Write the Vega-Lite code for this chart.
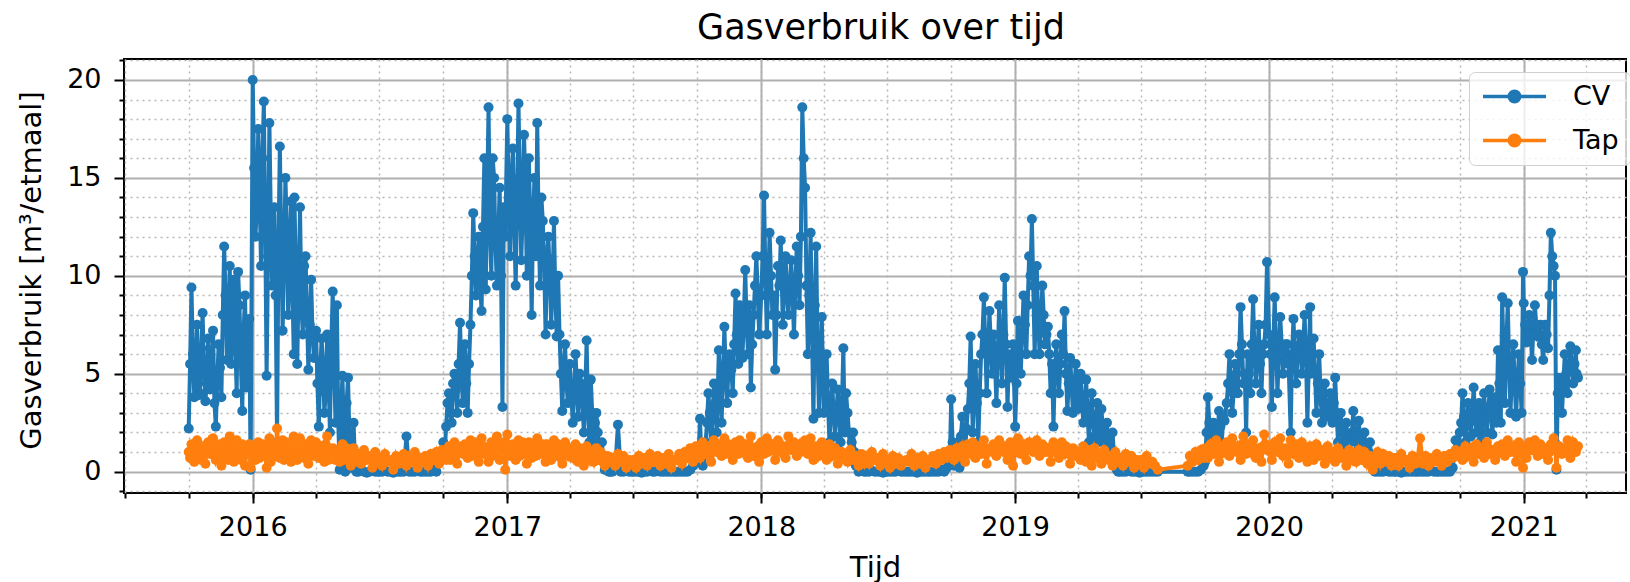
{
"$schema":"https://vega.github.io/schema/vega-lite/v6.json",
"width":1502,"height":434,"autosize":{"type":"none"},
"padding":{"left":124,"top":59,"right":4,"bottom":89},
"background":"white",
"title":{"text":"Gasverbruik over tijd","fontSize":35,"font":"DejaVu Sans","fontWeight":"normal","color":"black","anchor":"middle","baseline":"alphabetic","offset":19,"dx":6,"dy":34},
"config":{"font":"DejaVu Sans","view":{"stroke":"black","strokeWidth":2},
"axis":{"labelFont":"DejaVu Sans","labelFontSize":27,"labelColor":"black","titleFont":"DejaVu Sans","titleFontSize":29,"titleColor":"black","titleFontWeight":"normal","tickColor":"black","tickWidth":2,"domain":false,"gridColor":"#b0b0b0","labelFlush":false,"labelOverlap":false}},
"data":{"values":[
{"d":"2015-10-01","c":2.2,"t":1.0},{"d":"2015-10-05","c":9.4,"t":1.4},{"d":"2015-10-09","c":3.8,"t":0.5},{"d":"2015-10-13","c":7.5,"t":1.6},{"d":"2015-10-17","c":4.0,"t":0.8},{"d":"2015-10-21","c":8.1,"t":1.3},{"d":"2015-10-25","c":3.6,"t":0.4},{"d":"2015-10-29","c":6.8,"t":1.5},
{"d":"2015-11-01","c":4.2,"t":0.9},{"d":"2015-11-05","c":7.2,"t":1.7},{"d":"2015-11-09","c":2.3,"t":0.6},{"d":"2015-11-13","c":6.5,"t":1.2},{"d":"2015-11-17","c":3.8,"t":0.3},{"d":"2015-11-21","c":11.5,"t":1.5},{"d":"2015-11-25","c":5.7,"t":1.0},{"d":"2015-11-29","c":10.5,"t":1.8},
{"d":"2015-12-01","c":5.5,"t":1.1},{"d":"2015-12-05","c":9.8,"t":0.5},{"d":"2015-12-09","c":4.0,"t":1.6},{"d":"2015-12-13","c":8.5,"t":0.9},{"d":"2015-12-17","c":3.1,"t":1.4},{"d":"2015-12-21","c":9.0,"t":0.3},{"d":"2015-12-25","c":5.0,"t":1.2},{"d":"2015-12-29","c":0.1,"t":0.2},
{"d":"2016-01-01","c":20.0,"t":1.3},{"d":"2016-01-05","c":12.0,"t":0.6},{"d":"2016-01-09","c":17.5,"t":1.5},{"d":"2016-01-13","c":10.5,"t":0.8},{"d":"2016-01-17","c":18.9,"t":1.2},{"d":"2016-01-21","c":4.9,"t":0.2},{"d":"2016-01-25","c":17.8,"t":1.7},{"d":"2016-01-29","c":9.5,"t":1.0},
{"d":"2016-02-01","c":13.5,"t":1.4},{"d":"2016-02-05","c":1.5,"t":2.2},{"d":"2016-02-09","c":16.6,"t":0.7},{"d":"2016-02-13","c":7.2,"t":1.6},{"d":"2016-02-17","c":15.0,"t":0.9},{"d":"2016-02-21","c":8.0,"t":1.3},{"d":"2016-02-25","c":13.8,"t":0.5},{"d":"2016-02-29","c":6.0,"t":1.8},
{"d":"2016-03-01","c":14.0,"t":1.2},{"d":"2016-03-05","c":5.5,"t":0.6},{"d":"2016-03-09","c":13.5,"t":1.7},{"d":"2016-03-13","c":7.0,"t":1.0},{"d":"2016-03-17","c":11.0,"t":1.4},{"d":"2016-03-21","c":5.2,"t":0.4},{"d":"2016-03-25","c":9.8,"t":1.6},{"d":"2016-03-29","c":5.8,"t":0.8},
{"d":"2016-04-01","c":7.2,"t":1.5},{"d":"2016-04-05","c":2.3,"t":0.7},{"d":"2016-04-09","c":6.8,"t":1.3},{"d":"2016-04-13","c":3.0,"t":0.5},{"d":"2016-04-17","c":7.0,"t":1.8},{"d":"2016-04-21","c":2.0,"t":0.9},{"d":"2016-04-25","c":9.2,"t":1.2},{"d":"2016-04-29","c":2.5,"t":0.6},
{"d":"2016-05-01","c":8.5,"t":1.1},{"d":"2016-05-05","c":0.1,"t":0.5},{"d":"2016-05-09","c":4.9,"t":1.4},{"d":"2016-05-13","c":0.0,"t":0.8},{"d":"2016-05-17","c":4.8,"t":1.0},{"d":"2016-05-21","c":0.2,"t":0.3},{"d":"2016-05-25","c":2.5,"t":1.2},{"d":"2016-05-29","c":0.0,"t":0.7},
{"d":"2016-06-01","c":0.0,"t":0.9},{"d":"2016-06-05","c":0.1,"t":0.4},{"d":"2016-06-09","c":0.0,"t":1.1},{"d":"2016-06-13","c":-0.05,"t":0.6},{"d":"2016-06-17","c":0.0,"t":0.8},{"d":"2016-06-21","c":0.1,"t":0.2},{"d":"2016-06-25","c":0.0,"t":1.0},{"d":"2016-06-29","c":0.0,"t":0.5},
{"d":"2016-07-01","c":0.0,"t":0.7},{"d":"2016-07-05","c":0.0,"t":0.3},{"d":"2016-07-09","c":0.05,"t":0.9},{"d":"2016-07-13","c":0.0,"t":0.5},{"d":"2016-07-17","c":0.0,"t":0.6},{"d":"2016-07-21","c":-0.05,"t":0.1},{"d":"2016-07-25","c":0.0,"t":0.8},{"d":"2016-07-29","c":0.0,"t":0.4},
{"d":"2016-08-01","c":0.0,"t":0.6},{"d":"2016-08-05","c":0.0,"t":0.9},{"d":"2016-08-09","c":1.8,"t":0.3},{"d":"2016-08-13","c":0.0,"t":0.8},{"d":"2016-08-17","c":0.0,"t":0.5},{"d":"2016-08-21","c":0.0,"t":1.0},{"d":"2016-08-25","c":0.05,"t":0.2},{"d":"2016-08-29","c":0.0,"t":0.7},
{"d":"2016-09-01","c":0.0,"t":0.5},{"d":"2016-09-05","c":0.0,"t":0.8},{"d":"2016-09-09","c":0.0,"t":0.3},{"d":"2016-09-13","c":0.0,"t":0.9},{"d":"2016-09-17","c":0.1,"t":0.6},{"d":"2016-09-21","c":0.0,"t":1.0},{"d":"2016-09-25","c":0.5,"t":0.4},{"d":"2016-09-29","c":1.0,"t":1.1},
{"d":"2016-10-01","c":1.5,"t":1.0},{"d":"2016-10-05","c":2.3,"t":0.6},{"d":"2016-10-09","c":4.0,"t":1.3},{"d":"2016-10-13","c":2.5,"t":0.8},{"d":"2016-10-17","c":5.0,"t":1.5},{"d":"2016-10-21","c":3.0,"t":0.4},{"d":"2016-10-25","c":7.6,"t":1.2},{"d":"2016-10-29","c":3.5,"t":0.9},
{"d":"2016-11-01","c":6.5,"t":1.4},{"d":"2016-11-05","c":3.0,"t":0.7},{"d":"2016-11-09","c":7.5,"t":1.6},{"d":"2016-11-13","c":13.2,"t":1.0},{"d":"2016-11-17","c":9.0,"t":1.3},{"d":"2016-11-21","c":12.0,"t":0.5},{"d":"2016-11-25","c":8.2,"t":1.7},{"d":"2016-11-29","c":16.0,"t":0.9},
{"d":"2016-12-01","c":9.3,"t":1.2},{"d":"2016-12-05","c":18.6,"t":0.5},{"d":"2016-12-09","c":10.0,"t":1.5},{"d":"2016-12-13","c":15.0,"t":1.1},{"d":"2016-12-17","c":9.5,"t":1.8},{"d":"2016-12-21","c":14.5,"t":0.6},{"d":"2016-12-25","c":3.3,"t":1.3},{"d":"2016-12-29","c":12.0,"t":0.1},
{"d":"2017-01-01","c":18.0,"t":1.9},{"d":"2017-01-05","c":11.0,"t":0.8},{"d":"2017-01-09","c":16.5,"t":1.4},{"d":"2017-01-13","c":9.5,"t":0.6},{"d":"2017-01-17","c":18.8,"t":1.6},{"d":"2017-01-21","c":10.8,"t":1.0},{"d":"2017-01-25","c":17.2,"t":1.3},{"d":"2017-01-29","c":10.0,"t":0.4},
{"d":"2017-02-01","c":16.0,"t":1.5},{"d":"2017-02-05","c":8.0,"t":0.7},{"d":"2017-02-09","c":15.0,"t":1.2},{"d":"2017-02-13","c":17.8,"t":1.7},{"d":"2017-02-17","c":9.5,"t":0.9},{"d":"2017-02-21","c":12.8,"t":1.4},{"d":"2017-02-25","c":7.0,"t":0.5},
{"d":"2017-03-01","c":12.0,"t":1.3},{"d":"2017-03-05","c":7.5,"t":0.6},{"d":"2017-03-09","c":12.8,"t":1.6},{"d":"2017-03-13","c":6.9,"t":0.9},{"d":"2017-03-17","c":7.0,"t":1.1},{"d":"2017-03-21","c":3.1,"t":0.4},{"d":"2017-03-25","c":6.5,"t":1.5},{"d":"2017-03-29","c":3.5,"t":0.8},
{"d":"2017-04-01","c":5.5,"t":1.2},{"d":"2017-04-05","c":2.5,"t":0.7},{"d":"2017-04-09","c":6.0,"t":1.4},{"d":"2017-04-13","c":2.8,"t":0.5},{"d":"2017-04-17","c":4.5,"t":1.0},{"d":"2017-04-21","c":2.0,"t":0.3},{"d":"2017-04-25","c":6.7,"t":1.3},{"d":"2017-04-29","c":1.5,"t":0.6},
{"d":"2017-05-01","c":4.7,"t":1.0},{"d":"2017-05-05","c":1.5,"t":0.5},{"d":"2017-05-09","c":3.0,"t":1.2},{"d":"2017-05-13","c":1.0,"t":0.6},{"d":"2017-05-17","c":1.5,"t":0.9},{"d":"2017-05-21","c":0.1,"t":0.3},{"d":"2017-05-25","c":0.5,"t":0.8},{"d":"2017-05-29","c":0.0,"t":0.5},
{"d":"2017-06-01","c":0.0,"t":0.7},{"d":"2017-06-05","c":0.1,"t":0.3},{"d":"2017-06-09","c":2.4,"t":0.9},{"d":"2017-06-13","c":0.0,"t":0.5},{"d":"2017-06-17","c":0.0,"t":0.8},{"d":"2017-06-21","c":0.1,"t":0.2},{"d":"2017-06-25","c":0.0,"t":0.6},{"d":"2017-06-29","c":0.0,"t":0.4},
{"d":"2017-07-01","c":0.0,"t":0.6},{"d":"2017-07-05","c":0.0,"t":0.2},{"d":"2017-07-09","c":0.0,"t":0.8},{"d":"2017-07-13","c":-0.05,"t":0.4},{"d":"2017-07-17","c":0.0,"t":0.7},{"d":"2017-07-21","c":0.0,"t":0.3},{"d":"2017-07-25","c":0.05,"t":0.9},{"d":"2017-07-29","c":0.0,"t":0.5},
{"d":"2017-08-01","c":0.0,"t":0.5},{"d":"2017-08-05","c":0.05,"t":0.8},{"d":"2017-08-09","c":0.0,"t":0.3},{"d":"2017-08-13","c":0.0,"t":0.7},{"d":"2017-08-17","c":0.0,"t":0.4},{"d":"2017-08-21","c":0.0,"t":0.9},{"d":"2017-08-25","c":0.0,"t":0.2},{"d":"2017-08-29","c":0.0,"t":0.6},
{"d":"2017-09-01","c":0.0,"t":0.6},{"d":"2017-09-05","c":0.0,"t":0.9},{"d":"2017-09-09","c":0.0,"t":0.4},{"d":"2017-09-13","c":0.0,"t":1.0},{"d":"2017-09-17","c":0.0,"t":0.7},{"d":"2017-09-21","c":0.1,"t":1.2},{"d":"2017-09-25","c":0.3,"t":0.5},{"d":"2017-09-29","c":1.0,"t":1.3},
{"d":"2017-10-01","c":0.5,"t":1.2},{"d":"2017-10-05","c":2.7,"t":0.7},{"d":"2017-10-09","c":0.3,"t":1.5},{"d":"2017-10-13","c":1.5,"t":0.9},{"d":"2017-10-17","c":4.0,"t":1.3},{"d":"2017-10-21","c":1.2,"t":0.5},{"d":"2017-10-25","c":4.5,"t":1.6},{"d":"2017-10-29","c":2.0,"t":1.0},
{"d":"2017-11-01","c":6.2,"t":1.4},{"d":"2017-11-05","c":2.5,"t":0.8},{"d":"2017-11-09","c":7.4,"t":1.7},{"d":"2017-11-13","c":3.5,"t":1.1},{"d":"2017-11-17","c":6.0,"t":1.3},{"d":"2017-11-21","c":4.0,"t":0.6},{"d":"2017-11-25","c":9.1,"t":1.5},{"d":"2017-11-29","c":5.5,"t":0.9},
{"d":"2017-12-01","c":8.5,"t":1.6},{"d":"2017-12-05","c":5.8,"t":1.0},{"d":"2017-12-09","c":10.3,"t":1.4},{"d":"2017-12-13","c":6.0,"t":0.7},{"d":"2017-12-17","c":4.3,"t":1.8},{"d":"2017-12-21","c":8.0,"t":0.8},{"d":"2017-12-25","c":11.0,"t":1.2},{"d":"2017-12-29","c":7.0,"t":0.5},
{"d":"2018-01-01","c":9.0,"t":1.5},{"d":"2018-01-05","c":14.1,"t":0.9},{"d":"2018-01-09","c":7.0,"t":1.7},{"d":"2018-01-13","c":12.2,"t":1.2},{"d":"2018-01-17","c":8.0,"t":1.4},{"d":"2018-01-21","c":5.2,"t":0.6},{"d":"2018-01-25","c":10.5,"t":1.6},{"d":"2018-01-29","c":11.8,"t":1.0},
{"d":"2018-02-01","c":7.5,"t":1.3},{"d":"2018-02-05","c":11.0,"t":0.7},{"d":"2018-02-09","c":8.0,"t":1.8},{"d":"2018-02-13","c":10.8,"t":1.1},{"d":"2018-02-17","c":7.0,"t":1.5},{"d":"2018-02-21","c":11.5,"t":0.8},{"d":"2018-02-25","c":8.5,"t":1.4},
{"d":"2018-03-01","c":18.6,"t":1.2},{"d":"2018-03-05","c":14.5,"t":1.6},{"d":"2018-03-09","c":6.0,"t":0.9},{"d":"2018-03-13","c":12.2,"t":1.7},{"d":"2018-03-17","c":2.7,"t":0.6},{"d":"2018-03-21","c":11.5,"t":1.3},{"d":"2018-03-25","c":3.0,"t":0.8},{"d":"2018-03-29","c":7.9,"t":1.5},
{"d":"2018-04-01","c":3.0,"t":1.1},{"d":"2018-04-05","c":6.0,"t":0.6},{"d":"2018-04-09","c":1.5,"t":1.4},{"d":"2018-04-13","c":4.5,"t":0.8},{"d":"2018-04-17","c":1.8,"t":1.2},{"d":"2018-04-21","c":4.2,"t":0.4},{"d":"2018-04-25","c":1.5,"t":1.0},{"d":"2018-04-29","c":6.3,"t":0.7},
{"d":"2018-05-01","c":2.0,"t":0.9},{"d":"2018-05-05","c":3.0,"t":0.5},{"d":"2018-05-09","c":1.0,"t":1.1},{"d":"2018-05-13","c":2.0,"t":0.6},{"d":"2018-05-17","c":0.3,"t":0.8},{"d":"2018-05-21","c":0.0,"t":0.3},{"d":"2018-05-25","c":0.1,"t":0.9},{"d":"2018-05-29","c":0.0,"t":0.4},
{"d":"2018-06-01","c":0.0,"t":0.8},{"d":"2018-06-05","c":0.0,"t":0.4},{"d":"2018-06-09","c":0.05,"t":1.0},{"d":"2018-06-13","c":0.0,"t":0.6},{"d":"2018-06-17","c":0.0,"t":0.7},{"d":"2018-06-21","c":0.0,"t":0.3},{"d":"2018-06-25","c":-0.05,"t":0.9},{"d":"2018-06-29","c":0.0,"t":0.5},
{"d":"2018-07-01","c":0.0,"t":0.6},{"d":"2018-07-05","c":0.0,"t":0.2},{"d":"2018-07-09","c":0.0,"t":0.8},{"d":"2018-07-13","c":0.0,"t":0.4},{"d":"2018-07-17","c":0.05,"t":0.7},{"d":"2018-07-21","c":0.0,"t":0.3},{"d":"2018-07-25","c":0.0,"t":0.5},{"d":"2018-07-29","c":0.0,"t":0.6},
{"d":"2018-08-01","c":0.0,"t":0.5},{"d":"2018-08-05","c":0.0,"t":0.9},{"d":"2018-08-09","c":0.0,"t":0.3},{"d":"2018-08-13","c":-0.05,"t":0.7},{"d":"2018-08-17","c":0.0,"t":0.4},{"d":"2018-08-21","c":0.0,"t":0.8},{"d":"2018-08-25","c":0.0,"t":0.2},{"d":"2018-08-29","c":0.0,"t":0.6},
{"d":"2018-09-01","c":0.0,"t":0.5},{"d":"2018-09-05","c":0.0,"t":0.8},{"d":"2018-09-09","c":0.0,"t":0.4},{"d":"2018-09-13","c":0.0,"t":0.9},{"d":"2018-09-17","c":0.1,"t":0.6},{"d":"2018-09-21","c":0.0,"t":1.0},{"d":"2018-09-25","c":0.2,"t":0.7},{"d":"2018-09-29","c":0.5,"t":1.1},
{"d":"2018-10-01","c":3.7,"t":1.0},{"d":"2018-10-05","c":0.3,"t":0.6},{"d":"2018-10-09","c":0.8,"t":1.2},{"d":"2018-10-13","c":0.2,"t":0.8},{"d":"2018-10-17","c":2.8,"t":1.3},{"d":"2018-10-21","c":1.0,"t":0.5},{"d":"2018-10-25","c":3.2,"t":1.4},{"d":"2018-10-29","c":6.9,"t":0.9},
{"d":"2018-11-01","c":2.0,"t":1.5},{"d":"2018-11-05","c":5.5,"t":0.7},{"d":"2018-11-09","c":1.5,"t":1.3},{"d":"2018-11-13","c":6.0,"t":0.9},{"d":"2018-11-17","c":8.9,"t":1.6},{"d":"2018-11-21","c":4.0,"t":0.4},{"d":"2018-11-25","c":8.2,"t":1.2},{"d":"2018-11-29","c":5.0,"t":1.0},
{"d":"2018-12-01","c":7.0,"t":1.4},{"d":"2018-12-05","c":3.5,"t":0.8},{"d":"2018-12-09","c":8.5,"t":1.6},{"d":"2018-12-13","c":4.5,"t":1.1},{"d":"2018-12-17","c":9.9,"t":1.3},{"d":"2018-12-21","c":3.3,"t":0.6},{"d":"2018-12-25","c":4.8,"t":1.5},{"d":"2018-12-29","c":6.5,"t":0.3},
{"d":"2019-01-01","c":2.3,"t":1.2},{"d":"2019-01-05","c":7.7,"t":1.7},{"d":"2019-01-09","c":5.0,"t":0.9},{"d":"2019-01-13","c":9.0,"t":1.4},{"d":"2019-01-17","c":6.0,"t":0.6},{"d":"2019-01-21","c":11.0,"t":1.5},{"d":"2019-01-25","c":12.9,"t":1.1},{"d":"2019-01-29","c":6.0,"t":1.3},
{"d":"2019-02-01","c":10.5,"t":1.6},{"d":"2019-02-05","c":6.0,"t":0.8},{"d":"2019-02-09","c":9.5,"t":1.4},{"d":"2019-02-13","c":6.5,"t":1.0},{"d":"2019-02-17","c":7.4,"t":1.2},{"d":"2019-02-21","c":4.0,"t":0.5},{"d":"2019-02-25","c":2.3,"t":1.5},
{"d":"2019-03-01","c":6.5,"t":1.3},{"d":"2019-03-05","c":4.0,"t":0.7},{"d":"2019-03-09","c":7.0,"t":1.5},{"d":"2019-03-13","c":8.2,"t":0.9},{"d":"2019-03-17","c":3.1,"t":1.1},{"d":"2019-03-21","c":5.8,"t":0.4},{"d":"2019-03-25","c":3.0,"t":1.2},{"d":"2019-03-29","c":5.5,"t":0.8},
{"d":"2019-04-01","c":3.2,"t":1.0},{"d":"2019-04-05","c":5.0,"t":0.6},{"d":"2019-04-09","c":2.5,"t":1.3},{"d":"2019-04-13","c":4.7,"t":0.5},{"d":"2019-04-17","c":1.5,"t":1.1},{"d":"2019-04-21","c":4.0,"t":0.3},{"d":"2019-04-25","c":1.8,"t":1.2},{"d":"2019-04-29","c":3.5,"t":0.7},
{"d":"2019-05-01","c":1.5,"t":0.9},{"d":"2019-05-05","c":3.2,"t":0.4},{"d":"2019-05-09","c":1.0,"t":1.1},{"d":"2019-05-13","c":2.5,"t":0.7},{"d":"2019-05-17","c":1.5,"t":0.8},{"d":"2019-05-21","c":2.0,"t":0.3},{"d":"2019-05-25","c":0.3,"t":1.0},{"d":"2019-05-29","c":0.0,"t":0.5},
{"d":"2019-06-01","c":0.0,"t":0.7},{"d":"2019-06-05","c":0.0,"t":0.3},{"d":"2019-06-09","c":0.0,"t":0.9},{"d":"2019-06-13","c":0.05,"t":0.5},{"d":"2019-06-17","c":0.0,"t":0.8},{"d":"2019-06-21","c":0.0,"t":0.2},{"d":"2019-06-25","c":0.0,"t":0.6},{"d":"2019-06-29","c":-0.05,"t":0.4},
{"d":"2019-07-01","c":0.0,"t":0.6},{"d":"2019-07-05","c":0.0,"t":0.2},{"d":"2019-07-09","c":0.0,"t":0.8},{"d":"2019-07-13","c":0.0,"t":0.4},{"d":"2019-07-17","c":0.0,"t":0.5},{"d":"2019-07-21","c":0.0,"t":0.3},{"d":"2019-07-25","c":0.0,"t":0.1},
{"d":"2019-09-06","c":0.0,"t":0.3},{"d":"2019-09-09","c":0.0,"t":0.8},{"d":"2019-09-13","c":0.0,"t":0.5},{"d":"2019-09-17","c":0.0,"t":1.0},{"d":"2019-09-21","c":0.0,"t":0.6},{"d":"2019-09-25","c":0.1,"t":1.1},{"d":"2019-09-29","c":0.3,"t":0.7},
{"d":"2019-10-01","c":0.5,"t":1.2},{"d":"2019-10-05","c":3.8,"t":0.7},{"d":"2019-10-09","c":1.2,"t":1.4},{"d":"2019-10-13","c":2.5,"t":0.9},{"d":"2019-10-17","c":1.0,"t":1.6},{"d":"2019-10-21","c":3.1,"t":0.5},{"d":"2019-10-25","c":1.5,"t":1.3},{"d":"2019-10-29","c":2.6,"t":1.0},
{"d":"2019-11-01","c":3.5,"t":1.5},{"d":"2019-11-05","c":6.0,"t":0.8},{"d":"2019-11-09","c":3.0,"t":1.7},{"d":"2019-11-13","c":5.5,"t":1.1},{"d":"2019-11-17","c":4.0,"t":1.3},{"d":"2019-11-21","c":8.4,"t":0.6},{"d":"2019-11-25","c":4.5,"t":1.8},{"d":"2019-11-29","c":2.0,"t":0.9},
{"d":"2019-12-01","c":6.0,"t":1.4},{"d":"2019-12-05","c":4.0,"t":1.0},{"d":"2019-12-09","c":8.8,"t":1.6},{"d":"2019-12-13","c":4.5,"t":0.7},{"d":"2019-12-17","c":7.5,"t":1.2},{"d":"2019-12-21","c":4.0,"t":0.5},{"d":"2019-12-25","c":6.5,"t":1.9},{"d":"2019-12-29","c":10.7,"t":1.1},
{"d":"2020-01-01","c":7.0,"t":1.3},{"d":"2020-01-05","c":3.3,"t":0.6},{"d":"2020-01-09","c":8.9,"t":1.5},{"d":"2020-01-13","c":4.0,"t":1.0},{"d":"2020-01-17","c":7.9,"t":1.7},{"d":"2020-01-21","c":5.0,"t":0.8},{"d":"2020-01-25","c":6.5,"t":1.2},{"d":"2020-01-29","c":5.5,"t":0.4},
{"d":"2020-02-01","c":2.0,"t":1.6},{"d":"2020-02-05","c":7.8,"t":0.9},{"d":"2020-02-09","c":4.5,"t":1.4},{"d":"2020-02-13","c":7.0,"t":0.7},{"d":"2020-02-17","c":5.0,"t":1.5},{"d":"2020-02-21","c":8.0,"t":1.1},{"d":"2020-02-25","c":2.5,"t":0.5},{"d":"2020-02-29","c":8.4,"t":1.3},
{"d":"2020-03-01","c":5.0,"t":1.2},{"d":"2020-03-05","c":6.8,"t":0.6},{"d":"2020-03-09","c":3.0,"t":1.4},{"d":"2020-03-13","c":6.0,"t":0.8},{"d":"2020-03-17","c":2.5,"t":1.1},{"d":"2020-03-21","c":4.5,"t":0.4},{"d":"2020-03-25","c":2.8,"t":1.3},{"d":"2020-03-29","c":4.0,"t":0.7},
{"d":"2020-04-01","c":2.5,"t":1.0},{"d":"2020-04-05","c":4.8,"t":0.5},{"d":"2020-04-09","c":1.5,"t":1.2},{"d":"2020-04-13","c":3.0,"t":0.7},{"d":"2020-04-17","c":1.0,"t":0.9},{"d":"2020-04-21","c":2.5,"t":0.3},{"d":"2020-04-25","c":0.8,"t":1.1},{"d":"2020-04-29","c":2.0,"t":0.6},
{"d":"2020-05-01","c":3.1,"t":0.9},{"d":"2020-05-05","c":1.0,"t":0.5},{"d":"2020-05-09","c":2.6,"t":1.1},{"d":"2020-05-13","c":0.8,"t":0.6},{"d":"2020-05-17","c":2.0,"t":1.0},{"d":"2020-05-21","c":0.5,"t":0.4},{"d":"2020-05-25","c":1.5,"t":0.8},{"d":"2020-05-29","c":0.1,"t":0.1},
{"d":"2020-06-01","c":0.0,"t":0.6},{"d":"2020-06-05","c":0.0,"t":1.0},{"d":"2020-06-09","c":0.0,"t":0.4},{"d":"2020-06-13","c":0.0,"t":0.9},{"d":"2020-06-17","c":0.05,"t":0.5},{"d":"2020-06-21","c":0.0,"t":0.8},{"d":"2020-06-25","c":0.0,"t":0.3},{"d":"2020-06-29","c":0.0,"t":0.7},
{"d":"2020-07-01","c":0.0,"t":0.7},{"d":"2020-07-05","c":0.0,"t":0.3},{"d":"2020-07-09","c":-0.05,"t":0.9},{"d":"2020-07-13","c":0.0,"t":0.5},{"d":"2020-07-17","c":0.0,"t":0.6},{"d":"2020-07-21","c":0.0,"t":0.2},{"d":"2020-07-25","c":0.0,"t":0.8},{"d":"2020-07-29","c":0.0,"t":0.4},
{"d":"2020-08-01","c":0.0,"t":0.5},{"d":"2020-08-05","c":0.0,"t":1.7},{"d":"2020-08-09","c":0.0,"t":0.4},{"d":"2020-08-13","c":0.0,"t":0.8},{"d":"2020-08-17","c":0.0,"t":0.3},{"d":"2020-08-21","c":0.05,"t":0.7},{"d":"2020-08-25","c":0.0,"t":0.5},{"d":"2020-08-29","c":0.0,"t":0.9},
{"d":"2020-09-01","c":0.0,"t":0.6},{"d":"2020-09-05","c":0.0,"t":0.3},{"d":"2020-09-09","c":0.0,"t":0.8},{"d":"2020-09-13","c":0.0,"t":0.5},{"d":"2020-09-17","c":0.0,"t":0.9},{"d":"2020-09-21","c":0.2,"t":0.7},{"d":"2020-09-25","c":1.6,"t":1.1},{"d":"2020-09-29","c":0.8,"t":0.8},
{"d":"2020-10-01","c":2.0,"t":1.0},{"d":"2020-10-05","c":4.0,"t":0.6},{"d":"2020-10-09","c":1.5,"t":1.3},{"d":"2020-10-13","c":3.5,"t":0.8},{"d":"2020-10-17","c":1.8,"t":1.2},{"d":"2020-10-21","c":4.3,"t":0.5},{"d":"2020-10-25","c":2.0,"t":1.4},{"d":"2020-10-29","c":3.5,"t":0.9},
{"d":"2020-11-01","c":1.6,"t":1.2},{"d":"2020-11-05","c":4.0,"t":0.7},{"d":"2020-11-09","c":2.0,"t":1.5},{"d":"2020-11-13","c":4.2,"t":0.9},{"d":"2020-11-17","c":1.9,"t":1.1},{"d":"2020-11-21","c":3.8,"t":0.6},{"d":"2020-11-25","c":6.2,"t":1.3},{"d":"2020-11-29","c":2.5,"t":1.0},
{"d":"2020-12-01","c":8.9,"t":1.4},{"d":"2020-12-05","c":3.5,"t":0.8},{"d":"2020-12-09","c":8.6,"t":1.6},{"d":"2020-12-13","c":3.0,"t":1.0},{"d":"2020-12-17","c":6.5,"t":1.3},{"d":"2020-12-21","c":2.8,"t":0.5},{"d":"2020-12-25","c":6.0,"t":1.5},{"d":"2020-12-29","c":3.0,"t":0.9},{"d":"2020-12-31","c":10.2,"t":0.2},
{"d":"2021-01-01","c":8.6,"t":1.3},{"d":"2021-01-05","c":6.6,"t":0.7},{"d":"2021-01-09","c":8.0,"t":1.5},{"d":"2021-01-13","c":5.7,"t":1.1},{"d":"2021-01-17","c":8.5,"t":1.6},{"d":"2021-01-21","c":6.9,"t":0.8},{"d":"2021-01-25","c":7.5,"t":1.4},{"d":"2021-01-29","c":5.7,"t":0.9},
{"d":"2021-02-01","c":7.5,"t":1.2},{"d":"2021-02-05","c":6.3,"t":0.6},{"d":"2021-02-09","c":12.2,"t":1.4},{"d":"2021-02-13","c":10.5,"t":1.7},{"d":"2021-02-17","c":0.1,"t":0.2},{"d":"2021-02-21","c":4.8,"t":1.3},{"d":"2021-02-25","c":3.0,"t":0.9},
{"d":"2021-03-01","c":6.0,"t":1.1},{"d":"2021-03-05","c":4.0,"t":1.6},{"d":"2021-03-09","c":6.4,"t":0.7},{"d":"2021-03-13","c":4.5,"t":1.5},{"d":"2021-03-17","c":6.2,"t":1.0},{"d":"2021-03-20","c":4.8,"t":1.3},
{"d":"2015-10-03","c":5.5,"t":0.7},{"d":"2015-10-07","c":6.0,"t":1.2},{"d":"2015-10-11","c":5.2,"t":0.9},{"d":"2015-10-15","c":3.9,"t":1.1},{"d":"2015-10-19","c":6.3,"t":0.6},{"d":"2015-10-23","c":5.0,"t":1.0},{"d":"2015-10-27","c":4.5,"t":1.3},
{"d":"2015-11-03","c":5.0,"t":1.3},{"d":"2015-11-07","c":3.5,"t":1.0},{"d":"2015-11-11","c":4.6,"t":0.8},{"d":"2015-11-15","c":5.3,"t":1.4},{"d":"2015-11-19","c":8.0,"t":0.9},{"d":"2015-11-23","c":9.0,"t":1.2},{"d":"2015-11-27","c":7.5,"t":0.6},
{"d":"2015-12-03","c":7.0,"t":0.8},{"d":"2015-12-07","c":6.5,"t":1.3},{"d":"2015-12-11","c":10.2,"t":1.0},{"d":"2015-12-15","c":5.6,"t":0.6},{"d":"2015-12-19","c":7.2,"t":1.1},{"d":"2015-12-23","c":4.3,"t":0.9},{"d":"2015-12-27","c":7.8,"t":1.4},
{"d":"2016-01-03","c":15.5,"t":1.0},{"d":"2016-01-07","c":13.5,"t":1.2},{"d":"2016-01-11","c":14.0,"t":0.7},{"d":"2016-01-15","c":16.0,"t":1.4},{"d":"2016-01-19","c":12.5,"t":0.9},{"d":"2016-01-23","c":11.0,"t":1.1},{"d":"2016-01-27","c":13.0,"t":0.5},
{"d":"2016-02-03","c":9.0,"t":0.8},{"d":"2016-02-07","c":11.5,"t":1.1},{"d":"2016-02-11","c":12.0,"t":1.3},{"d":"2016-02-15","c":10.5,"t":0.6},{"d":"2016-02-19","c":12.5,"t":1.5},{"d":"2016-02-23","c":10.0,"t":1.0},{"d":"2016-02-27","c":9.5,"t":1.2},
{"d":"2016-03-03","c":10.0,"t":0.9},{"d":"2016-03-07","c":9.5,"t":1.3},{"d":"2016-03-11","c":8.5,"t":1.1},{"d":"2016-03-15","c":10.5,"t":0.7},{"d":"2016-03-19","c":8.0,"t":1.2},{"d":"2016-03-23","c":7.5,"t":1.0},{"d":"2016-03-27","c":7.0,"t":1.3},
{"d":"2016-04-03","c":4.5,"t":1.0},{"d":"2016-04-07","c":5.0,"t":1.2},{"d":"2016-04-11","c":5.5,"t":0.9},{"d":"2016-04-15","c":4.0,"t":1.4},{"d":"2016-04-19","c":4.8,"t":0.6},{"d":"2016-04-23","c":6.5,"t":1.1},{"d":"2016-04-27","c":5.5,"t":0.9},
{"d":"2016-05-03","c":2.5,"t":0.8},{"d":"2016-05-07","c":3.0,"t":1.1},{"d":"2016-05-11","c":2.0,"t":0.6},{"d":"2016-05-15","c":3.5,"t":1.2},{"d":"2016-05-19","c":1.8,"t":0.7},{"d":"2016-05-23","c":1.2,"t":0.9},{"d":"2016-05-27","c":0.5,"t":0.5},
{"d":"2016-10-03","c":1.0,"t":0.8},{"d":"2016-10-07","c":3.5,"t":1.1},{"d":"2016-10-11","c":3.0,"t":0.6},{"d":"2016-10-15","c":4.5,"t":1.2},{"d":"2016-10-19","c":4.2,"t":0.9},{"d":"2016-10-23","c":5.5,"t":1.0},{"d":"2016-10-27","c":5.0,"t":1.3},
{"d":"2016-11-03","c":4.5,"t":1.0},{"d":"2016-11-07","c":5.5,"t":1.2},{"d":"2016-11-11","c":10.0,"t":0.8},{"d":"2016-11-15","c":11.0,"t":1.5},{"d":"2016-11-19","c":10.5,"t":0.9},{"d":"2016-11-23","c":9.5,"t":1.1},{"d":"2016-11-27","c":12.5,"t":1.3},
{"d":"2016-12-03","c":14.0,"t":0.9},{"d":"2016-12-07","c":12.5,"t":1.2},{"d":"2016-12-11","c":16.0,"t":0.8},{"d":"2016-12-15","c":11.5,"t":1.4},{"d":"2016-12-19","c":12.0,"t":1.0},{"d":"2016-12-23","c":10.0,"t":1.1},{"d":"2016-12-27","c":13.5,"t":1.5},
{"d":"2017-01-03","c":14.0,"t":1.1},{"d":"2017-01-07","c":15.0,"t":1.3},{"d":"2017-01-11","c":12.5,"t":1.0},{"d":"2017-01-15","c":13.5,"t":1.2},{"d":"2017-01-19","c":15.0,"t":0.8},{"d":"2017-01-23","c":13.0,"t":1.5},{"d":"2017-01-27","c":14.5,"t":1.0},
{"d":"2017-02-03","c":12.5,"t":1.0},{"d":"2017-02-07","c":13.0,"t":1.3},{"d":"2017-02-11","c":11.0,"t":0.8},{"d":"2017-02-15","c":12.5,"t":1.2},{"d":"2017-02-19","c":14.0,"t":1.1},{"d":"2017-02-23","c":10.5,"t":0.9},{"d":"2017-02-27","c":11.0,"t":1.4},
{"d":"2017-03-03","c":10.0,"t":1.0},{"d":"2017-03-07","c":9.5,"t":1.2},{"d":"2017-03-11","c":9.0,"t":0.8},{"d":"2017-03-15","c":10.0,"t":1.4},{"d":"2017-03-19","c":5.0,"t":0.7},{"d":"2017-03-23","c":5.5,"t":1.1},{"d":"2017-03-27","c":4.5,"t":1.0},
{"d":"2017-04-03","c":4.0,"t":0.9},{"d":"2017-04-07","c":3.8,"t":1.1},{"d":"2017-04-11","c":4.5,"t":0.8},{"d":"2017-04-15","c":5.0,"t":1.2},{"d":"2017-04-19","c":3.5,"t":0.6},{"d":"2017-04-23","c":4.0,"t":1.0},{"d":"2017-04-27","c":3.0,"t":0.8},
{"d":"2017-05-03","c":3.0,"t":0.7},{"d":"2017-05-07","c":2.5,"t":0.9},{"d":"2017-05-11","c":2.0,"t":0.6},{"d":"2017-05-15","c":0.8,"t":1.0},{"d":"2017-05-19","c":0.5,"t":0.5},{"d":"2017-05-23","c":0.2,"t":0.7},{"d":"2017-05-27","c":0.0,"t":0.6},
{"d":"2017-10-03","c":1.0,"t":0.9},{"d":"2017-10-07","c":0.5,"t":1.1},{"d":"2017-10-11","c":0.8,"t":1.0},{"d":"2017-10-15","c":2.5,"t":1.2},{"d":"2017-10-19","c":3.0,"t":0.8},{"d":"2017-10-23","c":2.8,"t":1.3},{"d":"2017-10-27","c":3.5,"t":1.1},
{"d":"2017-11-03","c":4.5,"t":1.1},{"d":"2017-11-07","c":5.0,"t":1.3},{"d":"2017-11-11","c":5.0,"t":0.9},{"d":"2017-11-15","c":5.5,"t":1.4},{"d":"2017-11-19","c":5.2,"t":1.0},{"d":"2017-11-23","c":6.5,"t":1.2},{"d":"2017-11-27","c":7.0,"t":1.1},
{"d":"2017-12-03","c":7.5,"t":1.2},{"d":"2017-12-07","c":8.0,"t":1.4},{"d":"2017-12-11","c":7.5,"t":1.0},{"d":"2017-12-15","c":8.5,"t":1.3},{"d":"2017-12-19","c":6.5,"t":1.1},{"d":"2017-12-23","c":9.5,"t":0.9},{"d":"2017-12-27","c":9.0,"t":1.3},
{"d":"2018-01-03","c":11.0,"t":1.2},{"d":"2018-01-07","c":10.0,"t":1.3},{"d":"2018-01-11","c":9.5,"t":1.0},{"d":"2018-01-15","c":10.0,"t":1.4},{"d":"2018-01-19","c":9.0,"t":1.1},{"d":"2018-01-23","c":8.0,"t":1.2},{"d":"2018-01-27","c":9.5,"t":1.3},
{"d":"2018-02-03","c":9.5,"t":1.0},{"d":"2018-02-07","c":9.0,"t":1.3},{"d":"2018-02-11","c":9.5,"t":1.2},{"d":"2018-02-15","c":9.0,"t":1.4},{"d":"2018-02-19","c":9.5,"t":1.1},{"d":"2018-02-23","c":10.0,"t":1.2},{"d":"2018-02-27","c":12.0,"t":1.0},
{"d":"2018-03-03","c":16.0,"t":1.3},{"d":"2018-03-07","c":9.5,"t":1.1},{"d":"2018-03-11","c":9.0,"t":1.4},{"d":"2018-03-15","c":7.0,"t":1.0},{"d":"2018-03-19","c":8.5,"t":1.2},{"d":"2018-03-23","c":6.0,"t":1.1},{"d":"2018-03-27","c":5.5,"t":1.0},
{"d":"2018-04-03","c":4.5,"t":0.9},{"d":"2018-04-07","c":3.5,"t":1.0},{"d":"2018-04-11","c":3.0,"t":1.1},{"d":"2018-04-15","c":3.0,"t":1.0},{"d":"2018-04-19","c":3.0,"t":0.8},{"d":"2018-04-23","c":2.8,"t":0.9},{"d":"2018-04-27","c":3.5,"t":1.0},
{"d":"2018-05-03","c":4.0,"t":0.7},{"d":"2018-05-07","c":2.0,"t":0.8},{"d":"2018-05-11","c":1.5,"t":0.9},{"d":"2018-05-15","c":1.0,"t":0.7},{"d":"2018-05-19","c":0.8,"t":0.6},{"d":"2018-05-23","c":0.3,"t":0.5},{"d":"2018-05-27","c":0.1,"t":0.6},
{"d":"2018-10-03","c":1.5,"t":0.8},{"d":"2018-10-07","c":0.5,"t":0.9},{"d":"2018-10-11","c":1.5,"t":1.0},{"d":"2018-10-15","c":1.8,"t":1.1},{"d":"2018-10-19","c":2.0,"t":0.9},{"d":"2018-10-23","c":2.2,"t":1.0},{"d":"2018-10-27","c":4.5,"t":1.1},
{"d":"2018-11-03","c":4.5,"t":1.1},{"d":"2018-11-07","c":3.5,"t":1.0},{"d":"2018-11-11","c":4.0,"t":1.2},{"d":"2018-11-15","c":7.0,"t":1.3},{"d":"2018-11-19","c":6.5,"t":0.9},{"d":"2018-11-23","c":6.0,"t":1.0},{"d":"2018-11-27","c":6.5,"t":1.2},
{"d":"2018-12-03","c":5.5,"t":1.1},{"d":"2018-12-07","c":6.0,"t":1.2},{"d":"2018-12-11","c":6.5,"t":1.3},{"d":"2018-12-15","c":7.0,"t":1.0},{"d":"2018-12-19","c":6.5,"t":1.2},{"d":"2018-12-23","c":6.0,"t":1.1},{"d":"2018-12-27","c":5.5,"t":0.9},
{"d":"2019-01-03","c":4.5,"t":1.0},{"d":"2019-01-07","c":6.0,"t":1.3},{"d":"2019-01-11","c":7.0,"t":1.2},{"d":"2019-01-15","c":7.5,"t":1.1},{"d":"2019-01-19","c":8.5,"t":1.3},{"d":"2019-01-23","c":10.0,"t":1.2},{"d":"2019-01-27","c":9.5,"t":1.0},
{"d":"2019-02-03","c":8.0,"t":1.2},{"d":"2019-02-07","c":7.5,"t":1.1},{"d":"2019-02-11","c":8.0,"t":1.3},{"d":"2019-02-15","c":7.0,"t":1.0},{"d":"2019-02-19","c":6.0,"t":1.2},{"d":"2019-02-23","c":5.5,"t":1.1},{"d":"2019-02-27","c":5.0,"t":1.0},
{"d":"2019-03-03","c":5.5,"t":1.0},{"d":"2019-03-07","c":5.5,"t":1.2},{"d":"2019-03-11","c":6.0,"t":1.1},{"d":"2019-03-15","c":5.0,"t":1.3},{"d":"2019-03-19","c":4.5,"t":0.9},{"d":"2019-03-23","c":4.5,"t":1.0},{"d":"2019-03-27","c":4.0,"t":1.1},
{"d":"2019-04-03","c":4.0,"t":0.9},{"d":"2019-04-07","c":3.5,"t":1.0},{"d":"2019-04-11","c":3.5,"t":0.8},{"d":"2019-04-15","c":3.0,"t":1.1},{"d":"2019-04-19","c":3.0,"t":0.7},{"d":"2019-04-23","c":2.5,"t":0.9},{"d":"2019-04-27","c":2.5,"t":1.0},
{"d":"2019-05-03","c":2.0,"t":0.7},{"d":"2019-05-07","c":2.2,"t":0.8},{"d":"2019-05-11","c":1.8,"t":0.9},{"d":"2019-05-15","c":1.2,"t":0.6},{"d":"2019-05-19","c":1.0,"t":0.7},{"d":"2019-05-23","c":0.8,"t":0.8},{"d":"2019-05-27","c":0.1,"t":0.6},
{"d":"2019-10-03","c":2.0,"t":1.0},{"d":"2019-10-07","c":2.5,"t":1.1},{"d":"2019-10-11","c":2.0,"t":1.2},{"d":"2019-10-15","c":1.8,"t":1.0},{"d":"2019-10-19","c":2.0,"t":1.1},{"d":"2019-10-23","c":2.3,"t":0.9},{"d":"2019-10-27","c":2.8,"t":1.2},
{"d":"2019-11-03","c":4.5,"t":1.1},{"d":"2019-11-07","c":4.5,"t":1.2},{"d":"2019-11-11","c":4.0,"t":1.3},{"d":"2019-11-15","c":5.0,"t":1.0},{"d":"2019-11-19","c":6.0,"t":1.1},{"d":"2019-11-23","c":6.5,"t":1.4},{"d":"2019-11-27","c":5.0,"t":1.2},
{"d":"2019-12-03","c":5.0,"t":1.2},{"d":"2019-12-07","c":6.5,"t":1.3},{"d":"2019-12-11","c":6.0,"t":1.1},{"d":"2019-12-15","c":6.0,"t":1.0},{"d":"2019-12-19","c":5.5,"t":1.2},{"d":"2019-12-23","c":6.0,"t":1.3},{"d":"2019-12-27","c":7.5,"t":1.4},
{"d":"2020-01-03","c":6.0,"t":1.0},{"d":"2020-01-07","c":6.5,"t":1.2},{"d":"2020-01-11","c":6.5,"t":1.3},{"d":"2020-01-15","c":6.0,"t":1.1},{"d":"2020-01-19","c":6.5,"t":1.2},{"d":"2020-01-23","c":6.0,"t":1.0},{"d":"2020-01-27","c":6.5,"t":1.1},
{"d":"2020-02-03","c":6.0,"t":1.2},{"d":"2020-02-07","c":6.0,"t":1.1},{"d":"2020-02-11","c":6.0,"t":1.0},{"d":"2020-02-15","c":6.5,"t":1.2},{"d":"2020-02-19","c":6.5,"t":1.3},{"d":"2020-02-23","c":6.0,"t":0.9},{"d":"2020-02-27","c":5.5,"t":1.0},
{"d":"2020-03-03","c":6.0,"t":1.0},{"d":"2020-03-07","c":5.0,"t":1.1},{"d":"2020-03-11","c":4.5,"t":1.2},{"d":"2020-03-15","c":4.0,"t":0.9},{"d":"2020-03-19","c":3.5,"t":1.0},{"d":"2020-03-23","c":3.5,"t":1.1},{"d":"2020-03-27","c":3.0,"t":1.0},
{"d":"2020-04-03","c":3.5,"t":0.8},{"d":"2020-04-07","c":3.0,"t":0.9},{"d":"2020-04-11","c":2.5,"t":1.0},{"d":"2020-04-15","c":2.0,"t":0.8},{"d":"2020-04-19","c":2.0,"t":0.7},{"d":"2020-04-23","c":1.5,"t":0.9},{"d":"2020-04-27","c":1.5,"t":0.8},
{"d":"2020-05-03","c":2.0,"t":0.7},{"d":"2020-05-07","c":1.8,"t":0.8},{"d":"2020-05-11","c":1.5,"t":0.9},{"d":"2020-05-15","c":1.2,"t":0.7},{"d":"2020-05-19","c":1.0,"t":0.8},{"d":"2020-05-23","c":1.0,"t":0.6},{"d":"2020-05-27","c":0.6,"t":0.7},
{"d":"2020-10-03","c":2.5,"t":0.9},{"d":"2020-10-07","c":2.8,"t":1.0},{"d":"2020-10-11","c":2.5,"t":1.1},{"d":"2020-10-15","c":2.5,"t":1.0},{"d":"2020-10-19","c":3.0,"t":0.9},{"d":"2020-10-23","c":3.0,"t":1.1},{"d":"2020-10-27","c":2.8,"t":1.0},
{"d":"2020-11-03","c":2.5,"t":1.0},{"d":"2020-11-07","c":3.0,"t":1.1},{"d":"2020-11-11","c":3.0,"t":1.2},{"d":"2020-11-15","c":3.0,"t":1.0},{"d":"2020-11-19","c":3.5,"t":1.1},{"d":"2020-11-23","c":2.5,"t":0.9},{"d":"2020-11-27","c":4.5,"t":1.2},
{"d":"2020-12-03","c":6.0,"t":1.1},{"d":"2020-12-07","c":6.5,"t":1.2},{"d":"2020-12-11","c":5.5,"t":1.3},{"d":"2020-12-15","c":5.0,"t":1.1},{"d":"2020-12-19","c":4.5,"t":1.0},{"d":"2020-12-23","c":4.5,"t":1.2},{"d":"2020-12-27","c":4.5,"t":1.1},
{"d":"2021-01-03","c":7.5,"t":1.0},{"d":"2021-01-07","c":7.0,"t":1.2},{"d":"2021-01-11","c":7.0,"t":1.1},{"d":"2021-01-15","c":7.5,"t":1.3},{"d":"2021-01-19","c":7.5,"t":1.2},{"d":"2021-01-23","c":7.0,"t":1.1},{"d":"2021-01-27","c":6.5,"t":1.0},
{"d":"2021-02-03","c":7.0,"t":1.1},{"d":"2021-02-07","c":9.0,"t":1.0},{"d":"2021-02-11","c":11.0,"t":1.2},{"d":"2021-02-15","c":10.0,"t":1.3},{"d":"2021-02-19","c":4.0,"t":1.1},{"d":"2021-02-23","c":4.0,"t":1.0},{"d":"2021-02-27","c":4.5,"t":1.2},
{"d":"2021-03-03","c":5.0,"t":1.2},{"d":"2021-03-07","c":5.5,"t":1.0},{"d":"2021-03-11","c":5.5,"t":1.1},{"d":"2021-03-15","c":5.5,"t":1.3},{"d":"2021-03-18","c":5.0,"t":1.2}
]},
"layer":[
{"mark":{"type":"line","strokeWidth":4,"point":{"filled":true,"size":100,"opacity":1}},
"encoding":{
"x":{"field":"d","type":"temporal","scale":{"type":"utc","nice":false,"domain":[{"year":2015,"month":6,"date":30,"utc":true},{"year":2021,"month":5,"date":28,"utc":true}]},
"axis":{"orient":"bottom","tickCount":{"interval":"month","step":3},"labels":false,"title":null,"tickSize":5,"grid":true,"gridDash":[2,4],"gridWidth":1.5,"gridColor":"#b8b8b8"}},
"y":{"field":"c","type":"quantitative","scale":{"domain":[-1.09,21.07],"nice":false,"zero":false},
"axis":{"orient":"left","values":[-1,1,2,3,4,6,7,8,9,11,12,13,14,16,17,18,19,21],"labels":false,"title":null,"tickSize":5,"grid":true,"gridDash":[2,4],"gridWidth":1.5,"gridColor":"#b8b8b8"}},
"color":{"datum":"CV","type":"nominal","scale":{"domain":["CV","Tap"],"range":["#1f77b4","#ff7f0e"]},
"legend":{"orient":"none","legendX":1345,"legendY":13,"title":null,"direction":"vertical","columns":1,"labelAlign":"left","symbolType":"M-1,0H5M1.5,0A0.5,0.5,0,1,1,2.5,0A0.5,0.5,0,1,1,1.5,0Z","symbolSize":441,"symbolStrokeWidth":3.5,"labelOffset":66,"labelFontSize":27,"labelFont":"DejaVu Sans","labelColor":"black","rowPadding":16,"padding":11,"fillColor":"rgba(255,255,255,0.8)","strokeColor":"#d0d0d0","cornerRadius":6,"symbolOpacity":1,
"encode":{"symbols":{"update":{"fill":{"scale":"color","field":"value"},"stroke":{"scale":"color","field":"value"}}}}}}
}},
{"mark":{"type":"line","strokeWidth":4,"point":{"filled":true,"size":100,"opacity":1}},
"encoding":{
"x":{"field":"d","type":"temporal","scale":{"type":"utc","nice":false,"domain":[{"year":2015,"month":6,"date":30,"utc":true},{"year":2021,"month":5,"date":28,"utc":true}]},
"axis":{"orient":"bottom","tickCount":{"interval":"year","step":1},"format":"%Y","title":"Tijd","tickSize":10,"labelPadding":11,"grid":true,"gridWidth":2,"titleY":83,"titleBaseline":"alphabetic"}},
"y":{"field":"t","type":"quantitative","scale":{"domain":[-1.09,21.07],"nice":false,"zero":false},
"axis":{"orient":"left","values":[0,5,10,15,20],"tickSize":10,"labelPadding":13,"title":"Gasverbruik [m³/etmaal]","titleX":-84,"titleY":211,"titleBaseline":"alphabetic","titleAlign":"center","titleAngle":270,"grid":true,"gridWidth":2}},
"color":{"datum":"Tap","type":"nominal"}
}}
],
"resolve":{"axis":{"x":"independent","y":"independent"}}
}
